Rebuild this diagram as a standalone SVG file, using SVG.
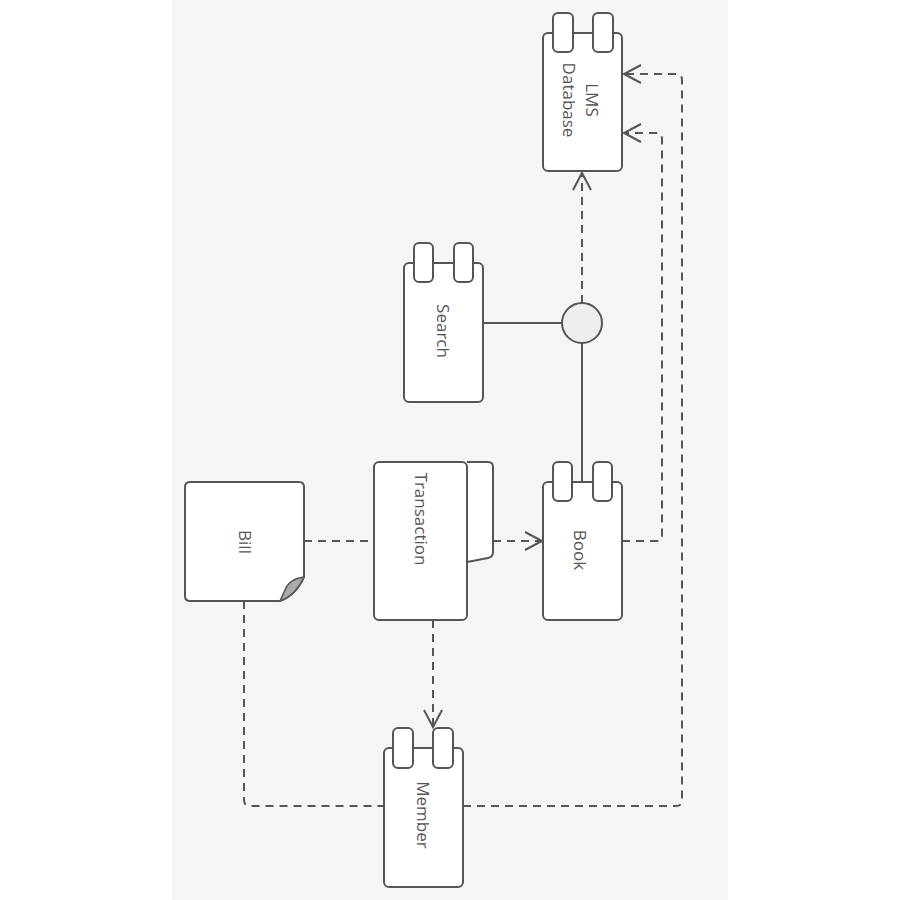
<svg xmlns="http://www.w3.org/2000/svg" width="900" height="900" viewBox="0 0 900 900">
<defs>
<style>
.n{fill:#fff;stroke:#555;stroke-width:2}
.t{font-family:"Open Sans","Noto Sans",sans-serif;font-size:17px;fill:#555;text-anchor:middle;dominant-baseline:central}
.c{fill:none;stroke:#555;stroke-width:2}
.d{stroke-dasharray:8 6}
</style>
<marker id="a" markerWidth="24" markerHeight="24" refX="18" refY="10" orient="auto" markerUnits="userSpaceOnUse">
<path d="M1,1 L18,10 L1,19" fill="none" stroke="#555" stroke-width="2"/>
</marker>
</defs>
<rect x="0" y="0" width="900" height="900" fill="#fff"/>
<rect x="172" y="0" width="556" height="900" fill="#f5f5f5"/>
<g id="connectors">
<path class="c d" d="M304,541 L374,541"/>
<path class="c d" d="M493,541 L542,541" marker-end="url(#a)"/>
<path class="c d" d="M622,541 L656,541 Q662,541 662,535 L662,139 Q662,133 656,133 L624,133" marker-end="url(#a)"/>
<path class="c d" d="M463,806 L676,806 Q682,806 682,800 L682,80 Q682,74 676,74 L624,74" marker-end="url(#a)"/>
<path class="c d" d="M244,601 L244,800 Q244,806 250,806 L383,806"/>
<path class="c d" d="M433,620 L433,727" marker-end="url(#a)"/>
<path class="c d" d="M582,303 L582,173" marker-end="url(#a)"/>
<path class="c" d="M483,323 L562,323"/>
<path class="c" d="M582,343 L582,482"/>
</g>
<g id="lms-database">
<rect class="n" x="543" y="33" width="79" height="138" rx="5"/>
<rect class="n" x="553" y="13" width="20" height="39" rx="5"/>
<rect class="n" x="593" y="13" width="20" height="39" rx="5"/>
<text class="t" transform="translate(582,100) rotate(90)"><tspan x="0" y="-11">LMS</tspan><tspan x="0" y="12">Database</tspan></text>
</g>
<g id="search">
<rect class="n" x="404" y="263" width="79" height="139" rx="5"/>
<rect class="n" x="414" y="243" width="19" height="39" rx="5"/>
<rect class="n" x="454" y="243" width="19" height="39" rx="5"/>
<text class="t" transform="translate(443,331) rotate(90)">Search</text>
</g>
<g id="interface">
<circle cx="582" cy="323" r="20" fill="#eeeeee" stroke="#555" stroke-width="2"/>
</g>
<g id="book">
<rect class="n" x="543" y="482" width="79" height="138" rx="5"/>
<rect class="n" x="553" y="462" width="19" height="39" rx="5"/>
<rect class="n" x="593" y="462" width="19" height="39" rx="5"/>
<text class="t" transform="translate(580,550) rotate(90)">Book</text>
</g>
<g id="member">
<rect class="n" x="384" y="748" width="79" height="139" rx="5"/>
<rect class="n" x="393" y="728" width="20" height="40" rx="5"/>
<rect class="n" x="433" y="728" width="20" height="40" rx="5"/>
<text class="t" transform="translate(423,815) rotate(90)">Member</text>
</g>
<g id="transaction">
<path class="n" d="M467,462 L488,462 Q493,462 493,467 L493,552 Q493,557 488,558 L467,562"/>
<rect class="n" x="374" y="462" width="93" height="158" rx="5"/>
<text class="t" transform="translate(421,519) rotate(90)">Transaction</text>
</g>
<g id="bill">
<path class="n" d="M190,482 L299,482 Q304,482 304,487 L304,577 Q296,595 280,601 L190,601 Q185,601 185,596 L185,487 Q185,482 190,482 Z"/>
<path d="M304,577 Q289,579 285,590 L280,601 Q296,595 304,577 Z" fill="#aaa" stroke="#555" stroke-width="1.5"/>
<text class="t" transform="translate(245,542) rotate(90)">Bill</text>
</g>
</svg>
